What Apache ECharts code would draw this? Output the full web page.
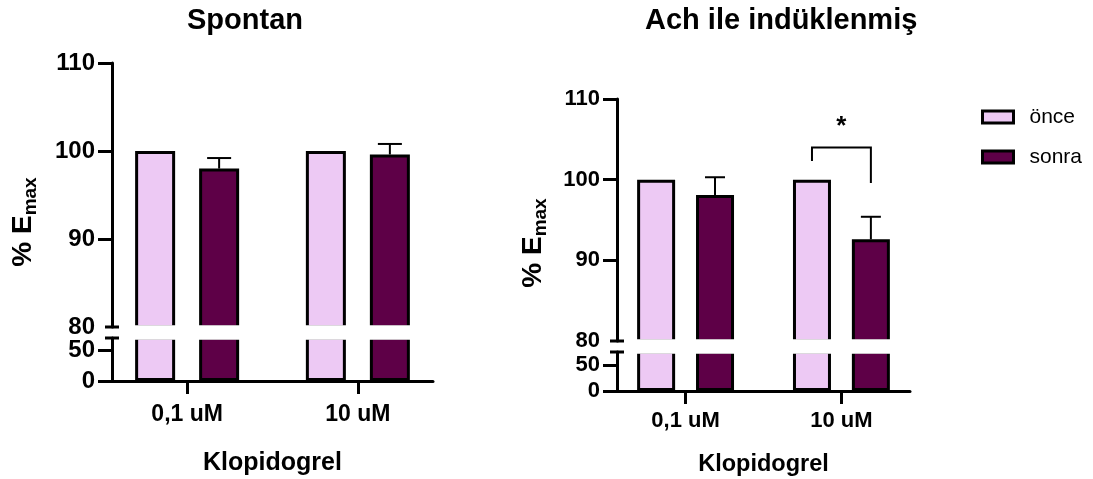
<!DOCTYPE html>
<html><head><meta charset="utf-8">
<script src="https://cdn.jsdelivr.net/npm/echarts@6/dist/echarts.min.js"></script>
<style>html,body{margin:0;padding:0;background:#fff}#c{width:1093px;height:479px}</style>
</head><body><div id="c"></div>
<script>
// ---- data ----
const categories = ['0,1 uM', '10 uM'];
const seriesNames = ['önce', 'sonra'];
const panelTitles = ['Spontan', 'Ach ile indüklenmiş'];
const xAxisTitle = 'Klopidogrel';
const yAxisTitleMain = '% E';
const yAxisTitleSub = 'max';
const spontanOnce = [100, 100];
const spontanSonra = [98.0, 99.6];
const spontanSonraErr = [1.2, 1.2];
const achOnce = [100, 100];
const achSonra = [98.1, 92.6];
const achSonraErr = [2.2, 2.8];
const upperTickLabels = [80, 90, 100, 110];
const upperTickMarks = [90, 100, 110];
const lowerTickLabels = [0, 50];
// significance bracket: [category, bracket top, left leg end, right leg end, star position]
const achSignificance = [['10 uM', 104.0, 102.3, 99.6, 106.6]];
const achSignificanceLabel = '*';

// ---- style / layout ----
const FONT = 'Liberation Sans, Arial, Helvetica, sans-serif';
const COLORS = ['#EDC9F4', '#5E0047'];
const X_MIN = 0.56, X_MAX = 2.44;
const panels = [
  {left:112, right:433, upperTop:63, upperBottom:327, lowerTop:338, lowerBottom:381, lowerMax:70,
   barWidth:40, barGap:0.6, cap:12, once:spontanOnce, sonra:spontanSonra, err:spontanSonraErr, sig:null,
   tickFont:24, catFont:23, nameFont:25, yNameFont:28, yNameGap:72, xNameGap:70, catMargin:22, shift:27},
  {left:617, right:910, upperTop:99, upperBottom:341, lowerTop:352, lowerBottom:391, lowerMax:75,
   barWidth:38, barGap:0.55, cap:10, once:achOnce, sonra:achSonra, err:achSonraErr, sig:achSignificance,
   tickFont:22, catFont:22, nameFont:23.5, yNameFont:28, yNameGap:67, xNameGap:62, catMargin:19, shift:23}
];

const chart = echarts.init(document.getElementById('c'), null, {renderer:'canvas'});
const grid = [], xAxis = [], yAxis = [], series = [];
const axisLine = {show:true, onZero:false, lineStyle:{color:'#000', width:3}};
const tickLine = {color:'#000', width:3};
const catPos = c => categories.indexOf(c) + 1;

panels.forEach((p, i) => {
  const up = 2*i, lo = 2*i + 1;
  grid.push({left:p.left, width:p.right-p.left, top:p.upperTop, height:p.upperBottom-p.upperTop, containLabel:false, outerBoundsMode:'none'});
  grid.push({left:p.left, width:p.right-p.left, top:p.lowerTop, height:p.lowerBottom-p.lowerTop, containLabel:false, outerBoundsMode:'none'});
  xAxis.push({type:'value', gridIndex:up, min:X_MIN, max:X_MAX, show:false, splitLine:{show:false}});
  xAxis.push({type:'value', gridIndex:lo, min:X_MIN, max:X_MAX,
    axisLine:axisLine,
    axisTick:{show:true, customValues:categories.map(catPos), length:13, lineStyle:tickLine},
    axisLabel:{customValues:categories.map(catPos), formatter:v=>categories[Math.round(v)-1],
      margin:p.catMargin, fontSize:p.catFont, fontWeight:'bold', color:'#000', fontFamily:FONT},
    splitLine:{show:false},
    name:xAxisTitle, nameLocation:'middle', nameGap:p.xNameGap,
    nameTextStyle:{fontSize:p.nameFont, fontWeight:'bold', color:'#000', fontFamily:FONT}});
  yAxis.push({type:'value', gridIndex:up, min:80, max:110, interval:10,
    axisLine:axisLine,
    axisTick:{show:true, customValues:upperTickMarks, length:14, lineStyle:tickLine},
    axisLabel:{customValues:upperTickLabels, margin:17, fontSize:p.tickFont, fontWeight:'bold', color:'#000', fontFamily:FONT},
    splitLine:{show:false},
    name:'{a|' + yAxisTitleMain + '}{b|' + yAxisTitleSub + '}', nameLocation:'middle', nameRotate:90, nameGap:p.yNameGap,
    nameTextStyle:{padding:[0, 2*p.shift, 0, 0], fontFamily:FONT,
      rich:{a:{fontSize:p.yNameFont, fontWeight:'bold', color:'#000', lineHeight:34, fontFamily:FONT},
            b:{fontSize:19, fontWeight:'bold', color:'#000', lineHeight:6, verticalAlign:'bottom', fontFamily:FONT}}}});
  yAxis.push({type:'value', gridIndex:lo, min:0, max:p.lowerMax,
    axisLine:axisLine,
    axisTick:{show:true, customValues:lowerTickLabels, length:14, lineStyle:tickLine},
    axisLabel:{customValues:lowerTickLabels, margin:17, fontSize:p.tickFont, fontWeight:'bold', color:'#000', fontFamily:FONT},
    splitLine:{show:false}});

  const vals = [p.once, p.sonra];
  [up, lo].forEach(gi => {
    vals.forEach((arr, s) => {
      series.push({type:'bar', name:seriesNames[s], xAxisIndex:gi, yAxisIndex:gi,
        data:arr.map((v,k)=>[catPos(categories[k]), v]), barWidth:p.barWidth, barGap:(p.barGap*100)+'%', clip:true,
        itemStyle:{color:COLORS[s], borderColor:'#000', borderWidth:3}, emphasis:{disabled:true}});
    });
  });
  const off = (p.barWidth + p.barWidth*p.barGap)/2;
  series.push({type:'custom', xAxisIndex:up, yAxisIndex:up, z:5,
    data:p.sonra.map((v,k)=>[catPos(categories[k]), v, p.err[k]]),
    renderItem:(params, api) => {
      const c = api.value(0), v = api.value(1), e = api.value(2);
      const b = api.coord([c, v]), t = api.coord([c, v+e]);
      const x = b[0] + off;
      return {type:'group', children:[
        {type:'line', shape:{x1:x, y1:b[1], x2:x, y2:t[1]}, style:{stroke:'#000', lineWidth:2}},
        {type:'line', shape:{x1:x-p.cap, y1:t[1], x2:x+p.cap, y2:t[1]}, style:{stroke:'#000', lineWidth:2}}
      ]};
    }});
  if (p.sig) {
    series.push({type:'custom', xAxisIndex:up, yAxisIndex:up, z:5, clip:false,
      data:p.sig.map(d => [catPos(d[0]), d[1], d[2], d[3], d[4]]),
      renderItem:(params, api) => {
        const c = api.value(0);
        const top = api.coord([c, api.value(1)]);
        const l = api.coord([c, api.value(2)]);
        const r = api.coord([c, api.value(3)]);
        const s = api.coord([c, api.value(4)]);
        const x1 = top[0] - off, x2 = top[0] + off;
        return {type:'group', children:[
          {type:'polyline', shape:{points:[[x1,l[1]],[x1,top[1]],[x2,top[1]],[x2,r[1]]]}, style:{stroke:'#000', lineWidth:2, fill:null}},
          {type:'text', x:s[0], y:s[1], style:{text:achSignificanceLabel, fontSize:26, fontWeight:'bold', fill:'#000', align:'center', verticalAlign:'middle', fontFamily:FONT}}
        ]};
      }});
  }
});

chart.setOption({
  animation:false,
  backgroundColor:'#fff',
  textStyle:{fontFamily:FONT},
  title:[
    {text:panelTitles[0], left:187, top:6, padding:0, textStyle:{fontSize:29, fontWeight:'bold', color:'#000', fontFamily:FONT}},
    {text:panelTitles[1], left:645, top:6, padding:0, textStyle:{fontSize:29, fontWeight:'bold', color:'#000', fontFamily:FONT}}
  ],
  legend:{data:seriesNames, orient:'vertical', left:981, top:105, padding:0, itemWidth:31, itemHeight:12, itemGap:16, icon:'rect',
    selectedMode:false,
    textStyle:{fontSize:21, color:'#000', lineHeight:24, padding:[0,0,0,11], fontFamily:FONT},
    itemStyle:{borderColor:'#000', borderWidth:3}},
  grid, xAxis, yAxis, series
});

// break gaps and break marks, positioned from the axes
const g = [];
panels.forEach((p, i) => {
  const up = 2*i, lo = 2*i + 1;
  const a = chart.convertToPixel({gridIndex:up}, [X_MIN, 80]);
  const r = chart.convertToPixel({gridIndex:lo}, [X_MAX, 0]);
  const b = chart.convertToPixel({gridIndex:lo}, [X_MIN, p.lowerMax]);
  const ax = a[0], yu = a[1], yl = b[1];
  g.push({type:'rect', z:50, shape:{x:ax+2, y:yu-1.7, width:r[0]-ax-2, height:yl-yu+3.4}, style:{fill:'#fff'}});
  g.push({type:'line', z:51, shape:{x1:ax-7, y1:yu, x2:ax+7, y2:yu}, style:{stroke:'#000', lineWidth:3}});
  g.push({type:'line', z:51, shape:{x1:ax-7, y1:yl, x2:ax+7, y2:yl}, style:{stroke:'#000', lineWidth:3}});
});
chart.setOption({graphic:g});
</script>
</body></html>
